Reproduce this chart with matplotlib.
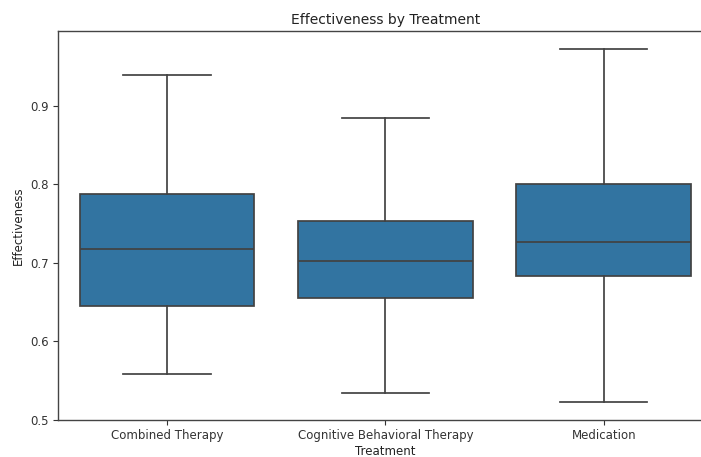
import matplotlib
matplotlib.use("Agg")
import matplotlib.pyplot as plt

# Box statistics per treatment
treatments = ["Combined Therapy", "Cognitive Behavioral Therapy", "Medication"]
whisker_low = [0.5577, 0.5340, 0.5221]
q1 = [0.6450, 0.6555, 0.6835]
median = [0.7180, 0.7030, 0.7267]
q3 = [0.7880, 0.7540, 0.8010]
whisker_high = [0.9390, 0.8847, 0.9732]

box_color = "#3274a1"
line_color = "#424242"

stats = []
for name, lo, a, m, b, hi in zip(treatments, whisker_low, q1, median, q3, whisker_high):
    stats.append({"label": name, "whislo": lo, "q1": a, "med": m, "q3": b,
                  "whishi": hi, "fliers": []})

fig = plt.figure(figsize=(7.01, 4.57), dpi=100)
ax = fig.add_axes([58 / 701, 37 / 457, 655 / 701, 389 / 457])

lw = 1.25
ax.bxp(stats, positions=range(len(treatments)), widths=0.8, patch_artist=True,
       showfliers=False, capwidths=0.4,
       boxprops=dict(facecolor=box_color, edgecolor=line_color, linewidth=lw),
       medianprops=dict(color=line_color, linewidth=lw),
       whiskerprops=dict(color=line_color, linewidth=lw),
       capprops=dict(color=line_color, linewidth=lw))

ax.set_xlim(-0.5, len(treatments) - 0.5)
lo_all, hi_all = min(whisker_low), max(whisker_high)
pad = 0.05 * (hi_all - lo_all)
ax.set_ylim(lo_all - pad, hi_all + pad)
ax.set_yticks([0.5, 0.6, 0.7, 0.8, 0.9])
ax.set_xticks(range(len(treatments)))
ax.set_xticklabels(treatments)

for s in ax.spines.values():
    s.set_color("#444444")
    s.set_linewidth(1.0)
ax.tick_params(colors="#333333", labelsize=8.5, pad=3)

ax.set_title("Effectiveness by Treatment", fontsize=10, color="#222222", pad=5)
ax.set_xlabel("Treatment", fontsize=8.5, color="#222222", labelpad=2)
ax.set_ylabel("Effectiveness", fontsize=8.5, color="#222222", labelpad=4)

fig.savefig("out.png", dpi=100)
